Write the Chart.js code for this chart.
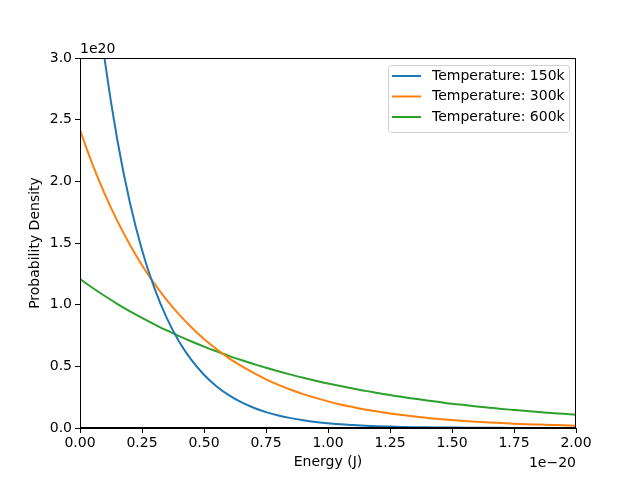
<!DOCTYPE html>
<html>
<head>
<meta charset="utf-8">
<script src="https://cdn.jsdelivr.net/npm/chart.js@4/dist/chart.umd.min.js"></script>
<style>
    html, body { margin: 0; padding: 0; background: #fff; }
    #wrap { width: 640px; height: 480px; }
</style>
</head>
<body>
<div id="wrap"><canvas id="energyChart" width="640" height="480"></canvas></div>
<script>
// Energy axis (units of 1e-20 J)
const energy = [0, 0.05, 0.1, 0.15, 0.2, 0.25, 0.3, 0.35, 0.4, 0.45, 0.5, 0.55, 0.6, 0.65, 0.7, 0.75, 0.8, 0.85, 0.9, 0.95,
    1.0, 1.05, 1.1, 1.15, 1.2, 1.25, 1.3, 1.35, 1.4, 1.45, 1.5, 1.55, 1.6, 1.65, 1.7, 1.75, 1.8, 1.85, 1.9, 1.95, 2.0];

// Probability density (units of 1e20)
const temp150 = [4.83, 3.794, 2.98, 2.341, 1.838, 1.444, 1.134, 0.891, 0.70, 0.55, 0.432, 0.339, 0.266, 0.209, 0.164, 0.129, 0.101, 0.080, 0.063, 0.049,
    0.039, 0.030, 0.024, 0.019, 0.015, 0.012, 0.009, 0.007, 0.006, 0.004, 0.0035, 0.003, 0.002, 0.0017, 0.0013, 0.001, 0.0008, 0.0006, 0.0005, 0.0004, 0.0003];
const temp300 = [2.415, 2.14, 1.897, 1.681, 1.49, 1.32, 1.17, 1.037, 0.919, 0.815, 0.722, 0.64, 0.567, 0.503, 0.446, 0.395, 0.35, 0.31, 0.275, 0.244,
    0.216, 0.191, 0.17, 0.15, 0.133, 0.118, 0.105, 0.093, 0.082, 0.073, 0.065, 0.057, 0.051, 0.045, 0.040, 0.035, 0.031, 0.028, 0.025, 0.022, 0.019];
const temp600 = [1.207, 1.137, 1.07, 1.007, 0.948, 0.893, 0.841, 0.791, 0.745, 0.701, 0.66, 0.622, 0.585, 0.551, 0.519, 0.488, 0.46, 0.433, 0.407, 0.383,
    0.361, 0.34, 0.32, 0.301, 0.284, 0.267, 0.251, 0.237, 0.223, 0.21, 0.197, 0.186, 0.175, 0.165, 0.155, 0.146, 0.137, 0.129, 0.122, 0.115, 0.108];

const xTicks = [0, 0.25, 0.5, 0.75, 1, 1.25, 1.5, 1.75, 2];
const seriesLabels = ['Temperature: 150k', 'Temperature: 300k', 'Temperature: 600k'];
const seriesColors = ['#1f77b4', '#ff7f0e', '#2ca02c'];

const FONT = 'DejaVu Sans';
const FSIZE = 14;
const AREA = { left: 80, right: 576, top: 58, bottom: 428 };

function toPoints(ys) {
    return energy.map((x, i) => ({ x: x, y: ys[i] }));
}

// frame, axis titles, offset texts and boxed legend, drawn like matplotlib
const decorations = {
    id: 'decorations',
    afterDraw(chart) {
        const ctx = chart.ctx;
        const a = chart.chartArea;
        ctx.save();
        ctx.strokeStyle = '#000';
        ctx.lineWidth = 1;
        ctx.strokeRect(a.left + 0.5, a.top + 0.5, a.right - a.left - 1, a.bottom - a.top - 1);

        ctx.fillStyle = '#000';
        ctx.font = FSIZE + 'px ' + FONT;
        ctx.textBaseline = 'alphabetic';
        ctx.textAlign = 'left';
        ctx.fillText('1e20', a.left, a.top - 5);
        ctx.textAlign = 'right';
        ctx.fillText('1e\u221220', a.right, 467);

        ctx.textAlign = 'center';
        ctx.textBaseline = 'middle';
        ctx.fillText('Energy (J)', (a.left + a.right) / 2, 462);
        ctx.save();
        ctx.translate(35, (a.top + a.bottom) / 2);
        ctx.rotate(-Math.PI / 2);
        ctx.fillText('Probability Density', 0, 0);
        ctx.restore();

        // legend box
        const bx = 388, by = 65, bw = 181, bh = 67;
        ctx.fillStyle = 'rgba(255,255,255,0.8)';
        ctx.strokeStyle = '#d0d0d0';
        ctx.lineWidth = 1;
        ctx.beginPath();
        ctx.roundRect(bx + 0.5, by + 0.5, bw, bh, 3);
        ctx.fill();
        ctx.stroke();
        ctx.textAlign = 'left';
        ctx.textBaseline = 'middle';
        seriesLabels.forEach((label, i) => {
            const y = 76 + i * 20.5;
            ctx.strokeStyle = seriesColors[i];
            ctx.lineWidth = 2;
            ctx.beginPath();
            ctx.moveTo(392, y);
            ctx.lineTo(421, y);
            ctx.stroke();
            ctx.fillStyle = '#000';
            ctx.fillText(label, 432, y);
        });
        ctx.restore();
    }
};

const ctx = document.getElementById('energyChart').getContext('2d');
new Chart(ctx, {
    type: 'line',
    data: {
        datasets: [temp150, temp300, temp600].map((ys, i) => ({
            label: seriesLabels[i],
            data: toPoints(ys),
            borderColor: seriesColors[i],
            backgroundColor: seriesColors[i],
            borderWidth: 2,
            pointRadius: 0,
            cubicInterpolationMode: 'monotone',
            fill: false
        }))
    },
    options: {
        responsive: false,
        animation: false,
        devicePixelRatio: 1,
        layout: {
            padding: { left: 0, right: 640 - AREA.right, top: AREA.top, bottom: 0 }
        },
        plugins: {
            legend: { display: false },
            tooltip: { enabled: false }
        },
        scales: {
            x: {
                type: 'linear',
                min: 0,
                max: 2,
                afterFit(scale) { scale.height = 480 - AREA.bottom; },
                afterBuildTicks(scale) {
                    scale.ticks = xTicks.map(v => ({ value: v }));
                },
                ticks: {
                    color: '#000',
                    font: { family: FONT, size: FSIZE },
                    padding: 2,
                    maxRotation: 0,
                    callback: v => v.toFixed(2)
                },
                grid: { drawOnChartArea: false, tickLength: 5, color: '#000' },
                border: { color: '#000' }
            },
            y: {
                min: 0,
                max: 3,
                afterFit(scale) { scale.width = AREA.left; },
                ticks: {
                    stepSize: 0.5,
                    color: '#000',
                    font: { family: FONT, size: FSIZE },
                    padding: 3,
                    callback: v => v.toFixed(1)
                },
                grid: { drawOnChartArea: false, tickLength: 5, color: '#000' },
                border: { color: '#000' }
            }
        }
    },
    plugins: [decorations]
});
</script>
</body>
</html>
